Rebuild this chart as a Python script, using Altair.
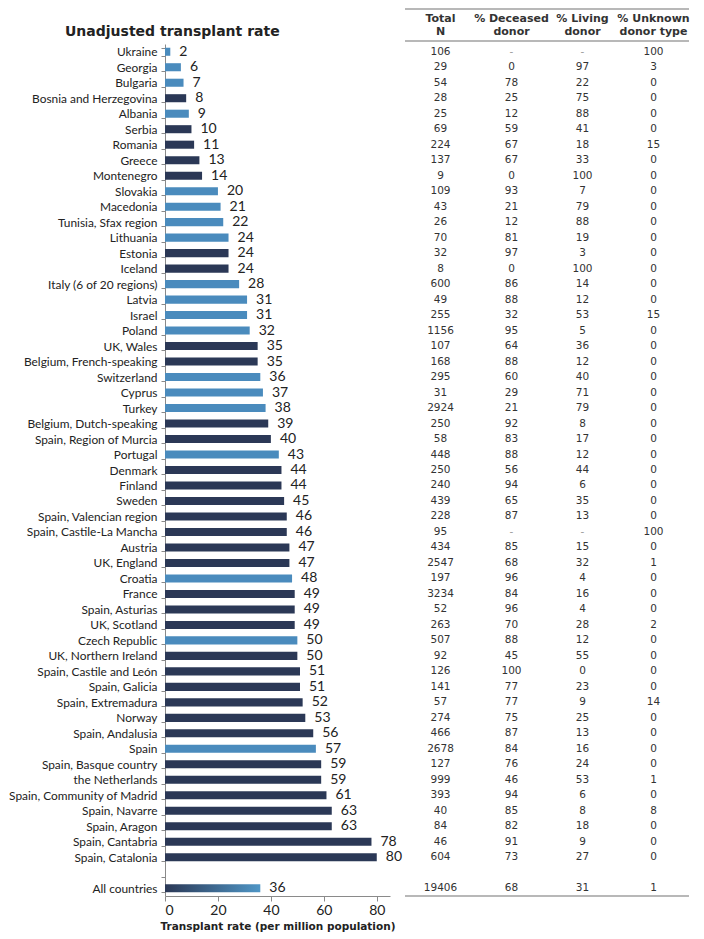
import altair as alt
import pandas as pd

countries = [
    "Ukraine", "Georgia", "Bulgaria", "Bosnia and Herzegovina", "Albania", "Serbia",
    "Romania", "Greece", "Montenegro", "Slovakia", "Macedonia", "Tunisia, Sfax region",
    "Lithuania", "Estonia", "Iceland", "Italy (6 of 20 regions)", "Latvia", "Israel",
    "Poland", "UK, Wales", "Belgium, French-speaking", "Switzerland", "Cyprus", "Turkey",
    "Belgium, Dutch-speaking", "Spain, Region of Murcia", "Portugal", "Denmark", "Finland",
    "Sweden", "Spain, Valencian region", "Spain, Castile-La Mancha", "Austria", "UK, England",
    "Croatia", "France", "Spain, Asturias", "UK, Scotland", "Czech Republic",
    "UK, Northern Ireland", "Spain, Castile and León", "Spain, Galicia", "Spain, Extremadura",
    "Norway", "Spain, Andalusia", "Spain", "Spain, Basque country", "the Netherlands",
    "Spain, Community of Madrid", "Spain, Navarre", "Spain, Aragon", "Spain, Cantabria",
    "Spain, Catalonia", "All countries",
]
rates = [
    2, 6, 7, 8, 9, 10, 11, 13, 14, 20, 21, 22, 24, 24, 24, 28, 31, 31, 32, 35, 35, 36, 37, 38,
    39, 40, 43, 44, 44, 45, 46, 46, 47, 47, 48, 49, 49, 49, 50, 50, 51, 51, 52, 53, 56, 57,
    59, 59, 61, 63, 63, 78, 80, 36,
]
groups = [
    "A", "A", "A", "B", "A", "B", "B", "B", "B", "A", "A", "A", "A", "B", "B", "A", "A", "A",
    "A", "B", "B", "A", "A", "A", "B", "B", "A", "B", "B", "B", "B", "B", "B", "B", "A", "B",
    "B", "B", "A", "B", "B", "B", "B", "B", "B", "A", "B", "B", "B", "B", "B", "B", "B", "All",
]
total_n = [
    "106", "29", "54", "28", "25", "69", "224", "137", "9", "109", "43", "26", "70", "32", "8",
    "600", "49", "255", "1156", "107", "168", "295", "31", "2924", "250", "58", "448", "250",
    "240", "439", "228", "95", "434", "2547", "197", "3234", "52", "263", "507", "92", "126",
    "141", "57", "274", "466", "2678", "127", "999", "393", "40", "84", "46", "604", "19406",
]
pct_deceased = [
    "-", "0", "78", "25", "12", "59", "67", "67", "0", "93", "21", "12", "81", "97", "0", "86",
    "88", "32", "95", "64", "88", "60", "29", "21", "92", "83", "88", "56", "94", "65", "87",
    "-", "85", "68", "96", "84", "96", "70", "88", "45", "100", "77", "77", "75", "87", "84",
    "76", "46", "94", "85", "82", "91", "73", "68",
]
pct_living = [
    "-", "97", "22", "75", "88", "41", "18", "33", "100", "7", "79", "88", "19", "3", "100",
    "14", "12", "53", "5", "36", "12", "40", "71", "79", "8", "17", "12", "44", "6", "35", "13",
    "-", "15", "32", "4", "16", "4", "28", "12", "55", "0", "23", "9", "25", "13", "16", "24",
    "53", "6", "8", "18", "9", "27", "31",
]
pct_unknown = [
    "100", "3", "0", "0", "0", "0", "15", "0", "0", "0", "0", "0", "0", "0", "0", "0", "0",
    "15", "0", "0", "0", "0", "0", "0", "0", "0", "0", "0", "0", "0", "0", "100", "0", "1",
    "0", "0", "0", "2", "0", "0", "0", "0", "14", "0", "0", "0", "0", "1", "0", "8", "0", "0",
    "0", "1",
]
table_columns = ["total", "deceased", "living", "unknown"]
header_line1 = ["Total", "% Deceased", "% Living", "% Unknown"]
header_line2 = ["N", "donor", "donor", "donor type"]

row_order = countries[:-1] + [" "] + [countries[-1]]

df = pd.DataFrame({"country": countries, "rate": rates, "group": groups})

tbl_rows = []
for i, c in enumerate(countries):
    for col, vals in zip(table_columns, [total_n, pct_deceased, pct_living, pct_unknown]):
        tbl_rows.append({"country": c, "col": col, "text": vals[i], "dash": vals[i] == "-"})
tdf = pd.DataFrame(tbl_rows)
hdf = pd.DataFrame({"col": table_columns, "l1": header_line1, "l2": header_line2})

PLOT_H = 852
LEFT_W = 225
TABLE_W = 284
LIGHT = "#4a8bbd"
DARK = "#2b3856"
LABEL_FONT = "Lato"
VERD = "DejaVu Sans"
GRAY = "#8a8a8a"

y_scale = alt.Scale(domain=row_order, paddingInner=0.48, paddingOuter=0.24)

y_left = alt.Y(
    "country:N", sort=None, scale=y_scale,
    axis=alt.Axis(title=None, tickBand="extent", labelFont=LABEL_FONT, labelFontSize=11.9,
                  labelColor="#222", labelPadding=4, tickSize=4, tickColor=GRAY,
                  domainColor=GRAY, labelLimit=300),
)
x_left = alt.X(
    "rate:Q", scale=alt.Scale(domain=[0, 85], nice=False),
    axis=alt.Axis(values=[0, 20, 40, 60, 80], title="Transplant rate (per million population)",
                  titleFont=VERD, titleFontSize=10.5, titleFontWeight="bold", titleColor="#222",
                  titlePadding=4, labelFont=LABEL_FONT, labelFontSize=14, labelColor="#222",
                  grid=False, tickSize=5, tickColor=GRAY, domainColor=GRAY,
                  labelPadding=2),
)

base = alt.Chart(df)
bars = base.transform_filter("datum.group != 'All'").mark_bar().encode(
    x=x_left, y=y_left,
    color=alt.Color("group:N", scale=alt.Scale(domain=["A", "B"], range=[LIGHT, DARK]), legend=None),
)
bar_all = base.transform_filter("datum.group == 'All'").mark_bar(
    color=alt.Gradient(
        gradient="linear",
        stops=[alt.GradientStop(color=DARK, offset=0), alt.GradientStop(color="#4f96c6", offset=1)],
        x1=0, x2=1, y1=0, y2=0,
    )
).encode(x=x_left, y=y_left)
labels = base.mark_text(align="left", baseline="middle", dx=9, font=LABEL_FONT, fontSize=14,
                        color="#222").encode(x=x_left, y=y_left, text="rate:Q")

left = alt.layer(bars, bar_all, labels).properties(
    width=LEFT_W, height=PLOT_H,
    title=alt.TitleParams("Unadjusted transplant rate", anchor="start", frame="group", dx=-100,
                          font=VERD, fontSize=14, fontWeight="bold", color="#222", offset=-1),
)

x_tab = alt.X("col:N", sort=table_columns,
              scale=alt.Scale(domain=table_columns, paddingInner=0, paddingOuter=0), axis=None)
y_tab = alt.Y("country:N", sort=None, scale=y_scale, axis=None)

tab_text = alt.Chart(tdf).mark_text(font=VERD, fontSize=10.5, baseline="middle").encode(
    x=x_tab, y=y_tab, text="text:N",
    color=alt.condition("datum.dash", alt.value("#9a9a9a"), alt.value("#333")),
)
head1 = alt.Chart(hdf).mark_text(font=VERD, fontSize=11, fontWeight="bold", color="#333",
                                 baseline="middle").encode(x=x_tab, y=alt.value(-25), text="l1:N")
head2 = alt.Chart(hdf).mark_text(font=VERD, fontSize=11, fontWeight="bold", color="#333",
                                 baseline="middle").encode(x=x_tab, y=alt.value(-12), text="l2:N")

line_df = pd.DataFrame({"k": [0]})


def hline(ypos):
    return alt.Chart(line_df).mark_rect(color="#a0a0a0", strokeWidth=0).encode(
        x=alt.value(0), x2=alt.value(TABLE_W), y=alt.value(ypos - 0.75), y2=alt.value(ypos + 0.75))


table = alt.layer(hline(-35), hline(-3), hline(PLOT_H), head1, head2, tab_text).properties(
    width=TABLE_W, height=PLOT_H)

chart = alt.hconcat(left, table, spacing=2).properties(
    padding={"left": 0, "top": 0, "right": 0, "bottom": 0}
).configure_view(stroke=None)

chart.save("out.html", embed_options={"renderer": "svg", "actions": False})
